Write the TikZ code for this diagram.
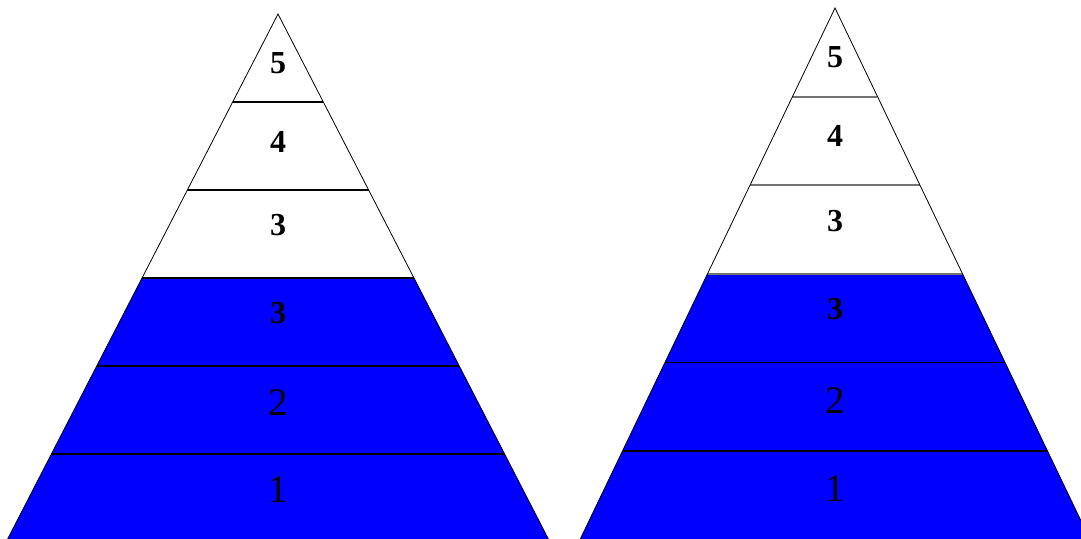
\documentclass[tikz,border=0pt]{standalone}
\usepackage{fontspec}
\setmainfont{Liberation Serif}
\definecolor{pblue}{RGB}{0,0,255}
\begin{document}
\begin{tikzpicture}[x=1pt,y=-1pt,
  outline/.style={draw=black,line width=0.8pt,line join=miter},
  fillblue/.style={fill=pblue},
  sepline/.style={draw=black,line width=1.5pt},
  sepgray/.style={draw=black!55,line width=1.9pt},
  boldlab/.style={font=\fontsize{32}{32}\selectfont\bfseries,inner sep=0pt},
  reglab/.style={font=\fontsize{39}{39}\selectfont,inner sep=0pt}]
\useasboundingbox (0,0) rectangle (1081,538);
\clip (0,0) rectangle (1081,538);
% ---------- left pyramid ----------
\coordinate (LA) at (278,14);
\coordinate (L1l) at (232.7,102); \coordinate (L1r) at (323.3,102);
\coordinate (L2l) at (187.4,190); \coordinate (L2r) at (368.6,190);
\coordinate (L3l) at (142.0,278); \coordinate (L3r) at (414.0,278);
\coordinate (L4l) at (96.7,366);  \coordinate (L4r) at (459.3,366);
\coordinate (L5l) at (51.4,454);  \coordinate (L5r) at (504.6,454);
\coordinate (L6l) at (6.1,542);   \coordinate (L6r) at (549.9,542);
\fill[fillblue] (L3l) -- (L3r) -- (L6r) -- (L6l) -- cycle;
\draw[sepline] (L1l) -- (L1r);
\draw[sepline] (L2l) -- (L2r);
\draw[sepline] (L3l) -- (L3r);
\draw[sepline] (L4l) -- (L4r);
\draw[sepline] (L5l) -- (L5r);
\draw[outline] (L6l) -- (LA) -- (L6r);
\node[boldlab] (l5) at (278,63) {5};
\node[boldlab] (l4) at (278,142) {4};
\node[boldlab] (l3a) at (278,225) {3};
\node[boldlab] (l3b) at (278,313) {3};
\node[reglab] (l2) at (278,403) {2};
\node[reglab] (l1) at (278,490) {1};
% ---------- right pyramid ----------
\coordinate (RA) at (835,8);
\coordinate (R1l) at (792.6,96.6);  \coordinate (R1r) at (877.4,96.6);
\coordinate (R2l) at (750.3,185.2); \coordinate (R2r) at (919.7,185.2);
\coordinate (R3l) at (707.5,273.8); \coordinate (R3r) at (962.5,273.8);
\coordinate (R4l) at (665.0,362.4); \coordinate (R4r) at (1005.0,362.4);
\coordinate (R5l) at (622.5,451.0); \coordinate (R5r) at (1047.5,451.0);
\coordinate (R6l) at (580.0,539.6); \coordinate (R6r) at (1090.0,539.6);
\fill[fillblue] (R3l) -- (R3r) -- (R6r) -- (R6l) -- cycle;
\draw[sepgray] (R1l) -- (R1r);
\draw[sepgray] (R2l) -- (R2r);
\draw[sepgray] (R3l) -- (R3r);
\draw[sepline] (R4l) -- (R4r);
\draw[sepline] (R5l) -- (R5r);
\draw[outline] (R6l) -- (RA) -- (R6r);
\node[boldlab] (r5) at (835,57) {5};
\node[boldlab] (r4) at (835,136) {4};
\node[boldlab] (r3a) at (835,221) {3};
\node[boldlab] (r3b) at (835,309) {3};
\node[reglab] (r2) at (835,401) {2};
\node[reglab] (r1) at (835,489) {1};
\end{tikzpicture}
\end{document}
